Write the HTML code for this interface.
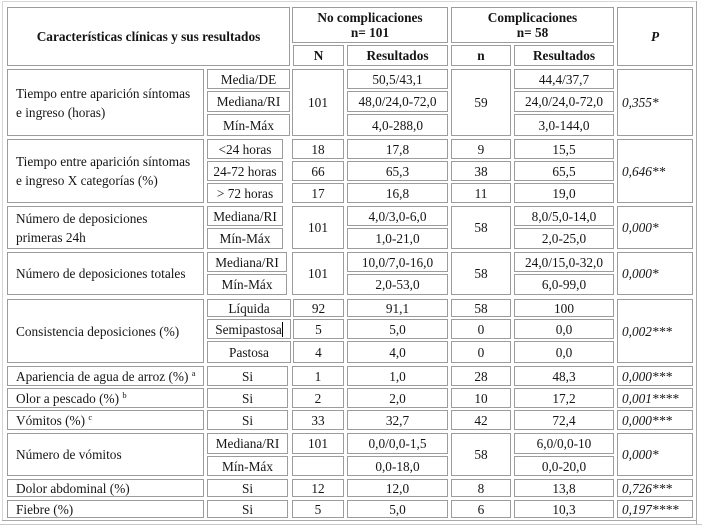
<!DOCTYPE html>
<html><head><meta charset="utf-8"><style>
html,body{margin:0;padding:0;background:#fff;}
body{width:702px;height:530px;position:relative;overflow:hidden;font-family:"Liberation Serif","Times New Roman",serif;font-size:13.3px;color:#151515;}
.c{position:absolute;box-sizing:border-box;border:1px solid #9c9c9c;display:flex;align-items:center;justify-content:center;text-align:center;line-height:15px;white-space:nowrap;}
.l{justify-content:flex-start;text-align:left;padding-left:8px;line-height:19px;}
.p{justify-content:flex-start;text-align:left;padding-left:4px;font-style:italic;}
.b{font-weight:bold;}
.ln{position:absolute;background:#c4c4c4;}
sup{font-size:8.5px;line-height:0;vertical-align:5px;}
</style></head><body>

<!-- outer table border -->
<div class="ln" style="left:2px;top:1px;width:695px;height:1px;background:#d6d6d6"></div>
<div class="ln" style="left:2px;top:1px;width:1px;height:520px;background:#d6d6d6"></div>
<div class="ln" style="left:696px;top:1px;width:1px;height:524px;background:#a8a8a8"></div>
<div class="ln" style="left:2px;top:520px;width:695px;height:1px;background:#a8a8a8"></div>
<div class="ln" style="left:0px;top:524px;width:702px;height:1px;background:#c8c8c8"></div>

<!-- header -->
<div class="c b" style="left:7px;top:7px;width:283px;height:59px"><div>Características clínicas y sus resultados</div></div>
<div class="c b" style="left:292px;top:7px;width:156px;height:36px"><div>No complicaciones<br>n= 101</div></div>
<div class="c b" style="left:451px;top:7px;width:163px;height:36px"><div>Complicaciones<br>n= 58</div></div>
<div class="c b" style="left:617px;top:7px;width:76px;height:59px"><div><i>P</i></div></div>
<div class="c b" style="left:293px;top:45px;width:51px;height:21px"><div>N</div></div>
<div class="c b" style="left:347px;top:45px;width:101px;height:21px"><div>Resultados</div></div>
<div class="c b" style="left:451px;top:45px;width:60px;height:21px"><div>n</div></div>
<div class="c b" style="left:514px;top:45px;width:100px;height:21px"><div>Resultados</div></div>

<!-- group 1: 69-135 -->
<div class="c l" style="left:7px;top:69px;width:197px;height:67px"><div>Tiempo entre aparición síntomas<br>e ingreso (horas)</div></div>
<div class="c" style="left:207px;top:69px;width:83px;height:20px"><div>Media/DE</div></div>
<div class="c" style="left:207px;top:91px;width:83px;height:21px"><div>Mediana/RI</div></div>
<div class="c" style="left:207px;top:114px;width:83px;height:22px"><div>Mín-Máx</div></div>
<div class="c" style="left:292px;top:69px;width:52px;height:67px"><div>101</div></div>
<div class="c" style="left:347px;top:69px;width:101px;height:20px"><div>50,5/43,1</div></div>
<div class="c" style="left:347px;top:91px;width:101px;height:21px"><div>48,0/24,0-72,0</div></div>
<div class="c" style="left:347px;top:114px;width:101px;height:22px"><div>4,0-288,0</div></div>
<div class="c" style="left:451px;top:69px;width:60px;height:67px"><div>59</div></div>
<div class="c" style="left:514px;top:69px;width:100px;height:20px"><div>44,4/37,7</div></div>
<div class="c" style="left:514px;top:91px;width:100px;height:21px"><div>24,0/24,0-72,0</div></div>
<div class="c" style="left:514px;top:114px;width:100px;height:22px"><div>3,0-144,0</div></div>
<div class="c p" style="left:617px;top:69px;width:76px;height:67px"><div>0,355*</div></div>

<!-- group 2: 139-202 -->
<div class="c l" style="left:7px;top:139px;width:197px;height:64px"><div>Tiempo entre aparición síntomas<br>e ingreso X categorías (%)</div></div>
<div class="c" style="left:207px;top:139px;width:76px;height:20px"><div>&lt;24 horas</div></div>
<div class="c" style="left:207px;top:161px;width:76px;height:20px"><div>24-72 horas</div></div>
<div class="c" style="left:207px;top:183px;width:76px;height:20px"><div>&gt; 72 horas</div></div>
<div class="c" style="left:292px;top:139px;width:52px;height:20px"><div>18</div></div>
<div class="c" style="left:292px;top:161px;width:52px;height:20px"><div>66</div></div>
<div class="c" style="left:292px;top:183px;width:52px;height:20px"><div>17</div></div>
<div class="c" style="left:347px;top:139px;width:101px;height:20px"><div>17,8</div></div>
<div class="c" style="left:347px;top:161px;width:101px;height:20px"><div>65,3</div></div>
<div class="c" style="left:347px;top:183px;width:101px;height:20px"><div>16,8</div></div>
<div class="c" style="left:451px;top:139px;width:60px;height:20px"><div>9</div></div>
<div class="c" style="left:451px;top:161px;width:60px;height:20px"><div>38</div></div>
<div class="c" style="left:451px;top:183px;width:60px;height:20px"><div>11</div></div>
<div class="c" style="left:514px;top:139px;width:100px;height:20px"><div>15,5</div></div>
<div class="c" style="left:514px;top:161px;width:100px;height:20px"><div>65,5</div></div>
<div class="c" style="left:514px;top:183px;width:100px;height:20px"><div>19,0</div></div>
<div class="c p" style="left:617px;top:139px;width:76px;height:64px"><div>0,646**</div></div>

<!-- group 3: 206-248 -->
<div class="c l" style="left:7px;top:206px;width:197px;height:43px"><div>Número de deposiciones<br>primeras 24h</div></div>
<div class="c" style="left:207px;top:206px;width:76px;height:20px"><div>Mediana/RI</div></div>
<div class="c" style="left:207px;top:228px;width:76px;height:21px"><div>Mín-Máx</div></div>
<div class="c" style="left:292px;top:206px;width:52px;height:43px"><div>101</div></div>
<div class="c" style="left:347px;top:206px;width:101px;height:20px"><div>4,0/3,0-6,0</div></div>
<div class="c" style="left:347px;top:228px;width:101px;height:21px"><div>1,0-21,0</div></div>
<div class="c" style="left:451px;top:206px;width:60px;height:43px"><div>58</div></div>
<div class="c" style="left:514px;top:206px;width:100px;height:20px"><div>8,0/5,0-14,0</div></div>
<div class="c" style="left:514px;top:228px;width:100px;height:21px"><div>2,0-25,0</div></div>
<div class="c p" style="left:617px;top:206px;width:76px;height:43px"><div>0,000*</div></div>

<!-- group 4: 252-294 -->
<div class="c l" style="left:7px;top:252px;width:197px;height:43px"><div>Número de deposiciones totales</div></div>
<div class="c" style="left:207px;top:252px;width:80px;height:20px"><div>Mediana/RI</div></div>
<div class="c" style="left:207px;top:274px;width:80px;height:21px"><div>Mín-Máx</div></div>
<div class="c" style="left:292px;top:252px;width:52px;height:43px"><div>101</div></div>
<div class="c" style="left:347px;top:252px;width:101px;height:20px"><div>10,0/7,0-16,0</div></div>
<div class="c" style="left:347px;top:274px;width:101px;height:21px"><div>2,0-53,0</div></div>
<div class="c" style="left:451px;top:252px;width:60px;height:43px"><div>58</div></div>
<div class="c" style="left:514px;top:252px;width:100px;height:20px"><div>24,0/15,0-32,0</div></div>
<div class="c" style="left:514px;top:274px;width:100px;height:21px"><div>6,0-99,0</div></div>
<div class="c p" style="left:617px;top:252px;width:76px;height:43px"><div>0,000*</div></div>

<!-- group 5: 299-362 -->
<div class="c l" style="left:7px;top:299px;width:197px;height:64px"><div>Consistencia deposiciones (%)</div></div>
<div class="c" style="left:207px;top:299px;width:84px;height:18px"><div>Líquida</div></div>
<div class="c" style="left:207px;top:319px;width:84px;height:20px"><div>Semipastosa<span style="display:inline-block;width:1px;height:15px;background:#000;vertical-align:-3px"></span></div></div>
<div class="c" style="left:207px;top:341px;width:84px;height:22px"><div>Pastosa</div></div>
<div class="c" style="left:293px;top:299px;width:51px;height:18px"><div>92</div></div>
<div class="c" style="left:293px;top:319px;width:51px;height:20px"><div>5</div></div>
<div class="c" style="left:293px;top:341px;width:51px;height:22px"><div>4</div></div>
<div class="c" style="left:347px;top:299px;width:101px;height:18px"><div>91,1</div></div>
<div class="c" style="left:347px;top:319px;width:101px;height:20px"><div>5,0</div></div>
<div class="c" style="left:347px;top:341px;width:101px;height:22px"><div>4,0</div></div>
<div class="c" style="left:451px;top:299px;width:60px;height:18px"><div>58</div></div>
<div class="c" style="left:451px;top:319px;width:60px;height:20px"><div>0</div></div>
<div class="c" style="left:451px;top:341px;width:60px;height:22px"><div>0</div></div>
<div class="c" style="left:514px;top:299px;width:100px;height:18px"><div>100</div></div>
<div class="c" style="left:514px;top:319px;width:100px;height:20px"><div>0,0</div></div>
<div class="c" style="left:514px;top:341px;width:100px;height:22px"><div>0,0</div></div>
<div class="c p" style="left:617px;top:299px;width:76px;height:64px"><div>0,002***</div></div>

<!-- Apariencia: 366-385 -->
<div class="c l" style="left:7px;top:366px;width:197px;height:20px"><div>Apariencia de agua de arroz (%) <sup>a</sup></div></div>
<div class="c" style="left:207px;top:366px;width:81px;height:20px"><div>Si</div></div>
<div class="c" style="left:292px;top:366px;width:52px;height:20px"><div>1</div></div>
<div class="c" style="left:347px;top:366px;width:101px;height:20px"><div>1,0</div></div>
<div class="c" style="left:451px;top:366px;width:60px;height:20px"><div>28</div></div>
<div class="c" style="left:514px;top:366px;width:100px;height:20px"><div>48,3</div></div>
<div class="c p" style="left:617px;top:366px;width:76px;height:20px"><div>0,000***</div></div>

<!-- Olor: 388-407 -->
<div class="c l" style="left:7px;top:388px;width:197px;height:20px"><div>Olor a pescado (%) <sup>b</sup></div></div>
<div class="c" style="left:207px;top:388px;width:81px;height:20px"><div>Si</div></div>
<div class="c" style="left:292px;top:388px;width:52px;height:20px"><div>2</div></div>
<div class="c" style="left:347px;top:388px;width:101px;height:20px"><div>2,0</div></div>
<div class="c" style="left:451px;top:388px;width:60px;height:20px"><div>10</div></div>
<div class="c" style="left:514px;top:388px;width:100px;height:20px"><div>17,2</div></div>
<div class="c p" style="left:617px;top:388px;width:76px;height:20px"><div>0,001****</div></div>

<!-- Vomitos: 410-429 -->
<div class="c l" style="left:7px;top:410px;width:197px;height:20px"><div>Vómitos (%) <sup>c</sup></div></div>
<div class="c" style="left:207px;top:410px;width:81px;height:20px"><div>Si</div></div>
<div class="c" style="left:292px;top:410px;width:52px;height:20px"><div>33</div></div>
<div class="c" style="left:347px;top:410px;width:101px;height:20px"><div>32,7</div></div>
<div class="c" style="left:451px;top:410px;width:60px;height:20px"><div>42</div></div>
<div class="c" style="left:514px;top:410px;width:100px;height:20px"><div>72,4</div></div>
<div class="c p" style="left:617px;top:410px;width:76px;height:20px"><div>0,000***</div></div>

<!-- Numero de vomitos: 433-475 -->
<div class="c l" style="left:7px;top:433px;width:197px;height:43px"><div>Número de vómitos</div></div>
<div class="c" style="left:207px;top:433px;width:81px;height:21px"><div>Mediana/RI</div></div>
<div class="c" style="left:207px;top:456px;width:81px;height:20px"><div>Mín-Máx</div></div>
<div class="c" style="left:292px;top:433px;width:52px;height:21px"><div>101</div></div>
<div class="c" style="left:292px;top:456px;width:52px;height:20px"><div></div></div>
<div class="c" style="left:347px;top:433px;width:101px;height:21px"><div>0,0/0,0-1,5</div></div>
<div class="c" style="left:347px;top:456px;width:101px;height:20px"><div>0,0-18,0</div></div>
<div class="c" style="left:451px;top:433px;width:60px;height:43px"><div>58</div></div>
<div class="c" style="left:514px;top:433px;width:100px;height:21px"><div>6,0/0,0-10</div></div>
<div class="c" style="left:514px;top:456px;width:100px;height:20px"><div>0,0-20,0</div></div>
<div class="c p" style="left:617px;top:433px;width:76px;height:43px"><div>0,000*</div></div>

<!-- Dolor: 479-496 -->
<div class="c l" style="left:7px;top:479px;width:197px;height:18px"><div>Dolor abdominal (%)</div></div>
<div class="c" style="left:207px;top:479px;width:81px;height:18px"><div>Si</div></div>
<div class="c" style="left:292px;top:479px;width:52px;height:18px"><div>12</div></div>
<div class="c" style="left:347px;top:479px;width:101px;height:18px"><div>12,0</div></div>
<div class="c" style="left:451px;top:479px;width:60px;height:18px"><div>8</div></div>
<div class="c" style="left:514px;top:479px;width:100px;height:18px"><div>13,8</div></div>
<div class="c p" style="left:617px;top:479px;width:76px;height:18px"><div>0,726***</div></div>

<!-- Fiebre: 500-517 -->
<div class="c l" style="left:7px;top:500px;width:197px;height:18px"><div>Fiebre (%)</div></div>
<div class="c" style="left:207px;top:500px;width:81px;height:18px"><div>Si</div></div>
<div class="c" style="left:292px;top:500px;width:52px;height:18px"><div>5</div></div>
<div class="c" style="left:347px;top:500px;width:101px;height:18px"><div>5,0</div></div>
<div class="c" style="left:451px;top:500px;width:60px;height:18px"><div>6</div></div>
<div class="c" style="left:514px;top:500px;width:100px;height:18px"><div>10,3</div></div>
<div class="c p" style="left:617px;top:500px;width:76px;height:18px"><div>0,197****</div></div>

</body></html>
